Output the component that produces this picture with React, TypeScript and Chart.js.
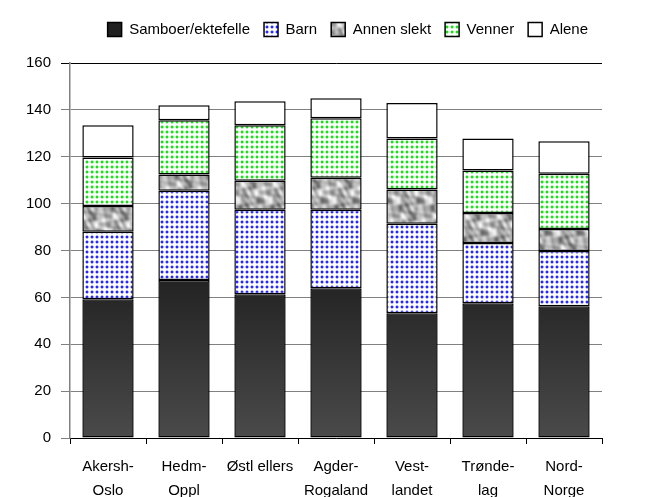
import React, { useEffect, useRef } from "react";
import { Chart, registerables } from "chart.js";

Chart.register(...registerables);

const categories: (string | string[])[] = [
  ["Akersh-", "Oslo"],
  ["Hedm-", "Oppl"],
  "Østl ellers",
  ["Agder-", "Rogaland"],
  ["Vest-", "landet"],
  ["Trønde-", "lag"],
  ["Nord-", "Norge"],
];
const seriesNames = ["Samboer/ektefelle", "Barn", "Annen slekt", "Venner", "Alene"];
const samboer = [59.2, 67.4, 61.3, 63.9, 53.2, 57.5, 56.2];
const barn = [28.8, 38.1, 36.1, 33.5, 38.2, 25.7, 23.6];
const annen = [11.0, 6.9, 12.4, 13.6, 14.6, 12.8, 9.4];
const venner = [20.7, 23.2, 23.6, 25.4, 21.8, 18.1, 23.6];
const alene = [13.7, 6.4, 10.3, 8.6, 15.1, 13.7, 13.8];
const yTicks = [0, 20, 40, 60, 80, 100, 120, 140, 160];

function dotPattern(dot: string) {
  const c = document.createElement("canvas");
  c.width = 5;
  c.height = 5;
  const g = c.getContext("2d")!;
  g.fillStyle = "#ffffff";
  g.fillRect(0, 0, 5, 5);
  g.fillStyle = dot;
  g.globalAlpha = 0.9;
  g.fillRect(1, 1, 2, 2);
  g.globalAlpha = 0.3;
  g.fillRect(0, 1, 1, 2);
  g.fillRect(1, 0, 2, 1);
  g.fillRect(3, 1, 1, 2);
  g.fillRect(1, 3, 2, 1);
  const ctx = document.createElement("canvas").getContext("2d")!;
  return ctx.createPattern(c, "repeat")!;
}

function marblePattern() {
  const n = 32;
  const c = document.createElement("canvas");
  c.width = n;
  c.height = n;
  const g = c.getContext("2d")!;
  const img = g.createImageData(n, n);
  const a = (2 * Math.PI) / n;
  for (let y = 0; y < n; y++) {
    for (let x = 0; x < n; x++) {
      const v =
        Math.sin(x * a + Math.cos(y * a * 2) * 1.8) +
        Math.cos(y * a + Math.sin(x * a * 2) * 1.8) +
        0.6 * Math.sin((x - y) * a * 3 + Math.cos(x * a) * 2);
      const gray = Math.round(175 + v * 28);
      const i = (y * n + x) * 4;
      img.data[i] = gray;
      img.data[i + 1] = gray;
      img.data[i + 2] = gray;
      img.data[i + 3] = 255;
    }
  }
  g.putImageData(img, 0, 0);
  const ctx = document.createElement("canvas").getContext("2d")!;
  return ctx.createPattern(c, "repeat")!;
}

export default function App() {
  const ref = useRef<HTMLCanvasElement>(null);
  useEffect(() => {
    const darkFill = (context: any) => {
      const area = context.chart.chartArea;
      if (!area) return "#2a2a2a";
      const g = context.chart.ctx.createLinearGradient(0, area.bottom - 170, 0, area.bottom);
      g.addColorStop(0, "#202020");
      g.addColorStop(1, "#4a4a4a");
      return g;
    };
    const fills: any[] = [
      darkFill,
      dotPattern("#1010ff"),
      marblePattern(),
      dotPattern("#00dd00"),
      "#ffffff",
    ];
    const values = [samboer, barn, annen, venner, alene];
    const font = { family: "'Liberation Sans', Arial, sans-serif", size: 15 };
    const chart = new Chart(ref.current!, {
      type: "bar",
      data: {
        labels: categories,
        datasets: seriesNames.map((name, i) => ({
          label: name,
          data: values[i],
          backgroundColor: fills[i],
          borderColor: "#000000",
          borderWidth: 1.5,
          borderSkipped: false,
          categoryPercentage: 1,
          barPercentage: 0.675,
        })),
      },
      options: {
        animation: false,
        responsive: false,
        layout: { padding: { left: 0, right: 66, top: 8, bottom: 0 } },
        plugins: {
          legend: {
            position: "top",
            align: "end",
            labels: {
              color: "#000",
              font: { ...font, size: 15 },
              boxWidth: 14,
              boxHeight: 14,
              padding: 14,
            },
          },
          subtitle: {
            display: true,
            text: " ",
            position: "top",
            weight: 500,
            font: { size: 10, lineHeight: 1.2 },
            padding: { top: 2, bottom: 2 },
          } as any,
          tooltip: { enabled: false },
        },
        scales: {
          x: {
            stacked: true,
            offset: true,
            grid: {
              offset: true,
              drawOnChartArea: false,
              drawTicks: true,
              tickLength: 6,
              color: "#000",
            },
            border: { color: "#000", width: 1 },
            ticks: {
              color: "#000",
              font: { ...font, lineHeight: 1.6 },
              maxRotation: 0,
              autoSkip: false,
              padding: 11,
            },
            afterFit: (s: any) => {
              s.height = 59;
            },
          },
          y: {
            stacked: true,
            min: 0,
            max: 160,
            afterBuildTicks: (s: any) => {
              s.ticks = yTicks.map((v) => ({ value: v }));
            },
            grid: {
              color: (c: any) => (c.tick && c.tick.value === 160 ? "#000" : "#808080"),
              tickLength: 9,
              lineWidth: 1,
            },
            border: { color: "#808080", width: 1.5 },
            ticks: { color: "#000", font, padding: 10 },
            afterFit: (s: any) => {
              s.width = 70;
            },
          },
        },
      },
    });
    return () => chart.destroy();
  }, []);
  return (
    <div style={{ position: "fixed", left: 0, top: 0, width: 668, height: 497, background: "#fff" }}>
      <canvas ref={ref} width={668} height={497} style={{ display: "block" }} />
    </div>
  );
}
